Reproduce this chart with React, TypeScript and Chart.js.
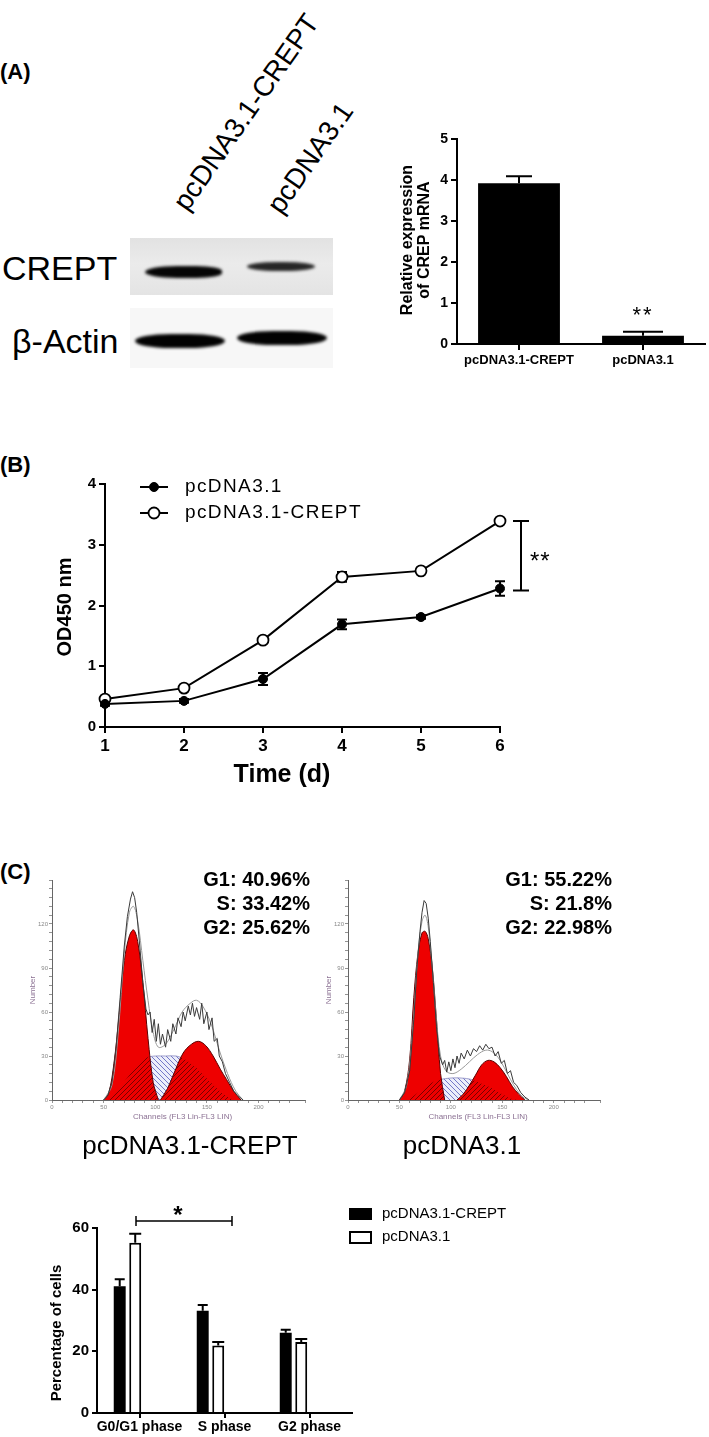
import React, { useEffect, useRef } from 'react';
import { Chart, registerables } from 'chart.js';

// ================= DATA =================
// Panel A – relative CREPT mRNA
const mrnaCategories = ['pcDNA3.1-CREPT', 'pcDNA3.1'];
const mrnaValues = [3.92, 0.2];
const mrnaErrors = [0.17, 0.1];
const mrnaTicks = { min: 0, max: 5, step: 1 };

// Panel B – CCK-8 growth curve
const days = [1, 2, 3, 4, 5, 6];
const odControl = [0.38, 0.43, 0.79, 1.69, 1.81, 2.28];
const odControlErr = [0.03, 0.03, 0.1, 0.08, 0.03, 0.12];
const odCrept = [0.46, 0.64, 1.43, 2.47, 2.57, 3.39];
const odCreptErr = [0.03, 0.03, 0.03, 0.08, 0.03, 0.03];
const odSeriesNames = ['pcDNA3.1', 'pcDNA3.1-CREPT'];

// Panel C – flow cytometry histograms (channel, count)
const h1G1Ch = [50, 55, 60, 65, 70, 75, 79, 83, 88, 93, 98, 103];
const h1G1N = [0, 5, 25, 58, 95, 112, 116, 108, 80, 42, 12, 0];
const h1G2Ch = [105, 112, 118, 127, 135, 142, 149, 156, 163, 169, 176, 183];
const h1G2N = [0, 8, 18, 32, 38, 40, 37, 30, 21, 14, 6, 0];
const h1SCh = [55, 65, 75, 85, 92, 100, 110, 120, 128, 138, 148, 158, 168, 176];
const h1SN = [0, 8, 17, 25, 29, 30, 30, 30, 28, 23, 16, 9, 3, 0];
const h1FitCh = [50, 58, 64, 70, 75, 79, 83, 88, 93, 98, 103, 110, 118, 126, 134, 140, 146, 154, 162, 170, 178, 185];
const h1FitN = [0, 10, 45, 100, 128, 132, 122, 95, 68, 46, 36, 38, 48, 60, 66, 68, 64, 52, 34, 18, 6, 0];
const h1RawCh = [50, 54, 58, 62, 66, 70, 73, 76, 78, 80, 82, 85, 88, 91, 93, 95, 97, 99, 101, 103, 105, 107, 110, 112, 115, 117, 120, 122, 125, 127, 129, 132, 134, 136, 138, 140, 143, 145, 147, 150, 152, 155, 157, 160, 162, 165, 168, 172, 176, 180, 185];
const h1RawN = [0, 3, 12, 35, 70, 105, 125, 137, 142, 138, 128, 105, 80, 62, 58, 60, 46, 55, 40, 52, 38, 45, 36, 48, 40, 52, 45, 56, 50, 60, 54, 64, 58, 66, 57, 63, 55, 66, 52, 60, 48, 56, 40, 42, 30, 26, 18, 12, 6, 3, 0];
const h1Marker = 79;

const h2G1Ch = [50, 55, 60, 64, 68, 72, 75, 78, 82, 86, 90, 94];
const h2G1N = [0, 6, 28, 70, 100, 114, 115, 110, 90, 55, 18, 0];
const h2G2Ch = [106, 112, 118, 124, 130, 136, 142, 148, 154, 160, 166, 172];
const h2G2N = [0, 4, 10, 17, 24, 27, 26, 22, 16, 9, 4, 0];
const h2SCh = [58, 66, 74, 82, 90, 100, 110, 120, 130, 140, 150, 158, 165];
const h2SN = [0, 4, 8, 12, 14, 15, 15, 14, 11, 8, 4, 1, 0];
const h2FitCh = [50, 57, 63, 68, 72, 75, 78, 82, 86, 90, 95, 102, 110, 118, 126, 134, 140, 146, 152, 158, 164, 170, 176];
const h2FitN = [0, 10, 50, 100, 122, 126, 118, 90, 55, 30, 20, 18, 21, 26, 31, 34, 33, 29, 22, 14, 7, 2, 0];
const h2RawCh = [50, 55, 60, 64, 67, 70, 72, 74, 76, 78, 80, 83, 86, 89, 92, 94, 96, 98, 100, 102, 104, 106, 108, 110, 113, 116, 119, 122, 125, 128, 131, 134, 137, 140, 143, 146, 149, 152, 155, 158, 161, 164, 168, 172, 176];
const h2RawN = [0, 5, 20, 55, 90, 115, 128, 136, 134, 124, 108, 80, 50, 30, 24, 27, 19, 26, 20, 28, 22, 30, 25, 32, 28, 34, 30, 35, 33, 37, 34, 38, 35, 36, 30, 33, 25, 27, 18, 20, 12, 10, 5, 2, 0];
const h2Marker = 75;

const statsCrept = ['G1: 40.96%', 'S: 33.42%', 'G2: 25.62%'];
const statsCtrl = ['G1: 55.22%', 'S: 21.8%', 'G2: 22.98%'];

// Panel C – cell-cycle bar chart
const phaseLabels = ['G0/G1 phase', 'S phase', 'G2 phase'];
const phaseCrept = [41.1, 33.2, 26.0];
const phaseCreptErr = [2.3, 1.8, 1.0];
const phaseCtrl = [55.2, 21.9, 23.0];
const phaseCtrlErr = [2.9, 1.1, 1.0];
const phaseSeriesNames = ['pcDNA3.1-CREPT', 'pcDNA3.1'];

// ================= SETUP =================
const FONT = '"Liberation Sans", Arial, Helvetica, sans-serif';

const clipToPlugin = {
  id: 'clipTo',
  beforeDatasetDraw(chart: any, args: any) {
    const ds: any = chart.data.datasets[args.index];
    if (!ds || !ds.clipTo) return;
    const ctx = chart.ctx;
    const base = chart.scales.y.getPixelForValue(0);
    ctx.save();
    ctx.beginPath();
    ds.clipTo.forEach((k: number) => {
      const pts = chart.getDatasetMeta(k).data;
      if (!pts.length) return;
      ctx.moveTo(pts[0].x, base);
      pts.forEach((p: any) => ctx.lineTo(p.x, p.y));
      ctx.lineTo(pts[pts.length - 1].x, base);
      ctx.closePath();
    });
    ctx.clip();
  },
  afterDatasetDraw(chart: any, args: any) {
    const ds: any = chart.data.datasets[args.index];
    if (ds && ds.clipTo) chart.ctx.restore();
  },
};

Chart.register(clipToPlugin as any);
Chart.register(...registerables);
Chart.defaults.font.family = FONT;
Chart.defaults.color = '#000';

const errorBars = {
  id: 'errorBars',
  beforeDatasetsDraw(chart: any) {
    const ctx = chart.ctx;
    chart.data.datasets.forEach((ds: any, di: number) => {
      if (!ds.errors) return;
      const meta = chart.getDatasetMeta(di);
      const ys = meta.yScale || chart.scales.y;
      ctx.save();
      ctx.strokeStyle = '#000';
      ctx.lineWidth = ds.errWidth || 2;
      meta.data.forEach((el: any, i: number) => {
        const e = ds.errors[i];
        if (e == null) return;
        const raw = ds.data[i];
        const v = typeof raw === 'object' ? raw.y : raw;
        const cap = Array.isArray(ds.errCap) ? ds.errCap[i] : ds.errCap || 5;
        const yt = ys.getPixelForValue(v + e);
        const yb = ys.getPixelForValue(ds.errUpOnly ? v : v - e);
        ctx.beginPath();
        ctx.moveTo(el.x, yb);
        ctx.lineTo(el.x, yt);
        ctx.moveTo(el.x - cap, yt);
        ctx.lineTo(el.x + cap, yt);
        if (!ds.errUpOnly) {
          ctx.moveTo(el.x - cap, yb);
          ctx.lineTo(el.x + cap, yb);
        }
        ctx.stroke();
      });
      ctx.restore();
    });
  },
};

function drawText(ctx: any, s: string, x: number, y: number, o: any) {
  ctx.save();
  ctx.font = o.font;
  ctx.fillStyle = o.color || '#000';
  ctx.textAlign = o.align || 'left';
  ctx.textBaseline = o.baseline || 'middle';
  if (o.ls) ctx.letterSpacing = o.ls;
  ctx.translate(x, y);
  if (o.rot) ctx.rotate(o.rot);
  ctx.fillText(s, 0, 0);
  ctx.restore();
}

const blackAxis = (tickLen: number) => ({
  grid: { display: true, drawOnChartArea: false, offset: false, tickLength: tickLen, color: '#000', lineWidth: 2 },
  border: { display: true, color: '#000', width: 2 },
});

type Make = (ctx: CanvasRenderingContext2D) => any;

function ChartBox(props: { left: number; top: number; width: number; height: number; make: Make }) {
  const ref = useRef<HTMLCanvasElement | null>(null);
  useEffect(() => {
    const canvas = ref.current as HTMLCanvasElement;
    const chart = new Chart(canvas, props.make(canvas.getContext('2d') as CanvasRenderingContext2D));
    return () => chart.destroy();
  }, []);
  const { left, top, width, height } = props;
  return <canvas ref={ref} width={width} height={height} style={{ position: 'absolute', left, top, width, height }} />;
}

const xy = (xs: number[], ys: number[]) => xs.map((x, i) => ({ x, y: ys[i] }));

// ---------- Panel A bar chart ----------
const A_OX = 380, A_OY = 120;
const makeMrna: Make = () => ({
  type: 'bar',
  data: {
    labels: mrnaCategories,
    datasets: [{
      label: 'Relative expression', data: mrnaValues, backgroundColor: '#000', borderWidth: 0,
      barPercentage: 0.66, categoryPercentage: 1,
      errors: mrnaErrors, errCap: [13, 20], errUpOnly: true, errWidth: 2,
    }],
  },
  options: {
    responsive: false, animation: false, events: [],
    layout: { padding: { left: 0, top: 19, right: 4, bottom: 0 } },
    plugins: { legend: { display: false }, tooltip: { enabled: false } },
    scales: {
      x: {
        offset: true, ...blackAxis(6),
        ticks: { color: '#000', font: { size: 13, weight: 'bold' }, padding: 3, maxRotation: 0, autoSkip: false },
        afterFit: (s: any) => { s.height = 36; },
      },
      y: {
        min: mrnaTicks.min, max: mrnaTicks.max, ...blackAxis(6),
        ticks: { stepSize: mrnaTicks.step, color: '#000', font: { size: 14, weight: 'bold' }, padding: 3 },
        afterFit: (s: any) => { s.width = 77; },
      },
    },
  },
  plugins: [errorBars, {
    id: 'aDeco',
    afterDraw(chart: any) {
      const ctx = chart.ctx;
      const f = `bold 16px ${FONT}`;
      drawText(ctx, 'Relative expression', 408 - A_OX, 240 - A_OY, { font: f, align: 'center', rot: -Math.PI / 2 });
      drawText(ctx, 'of CREP mRNA', 425 - A_OX, 240 - A_OY, { font: f, align: 'center', rot: -Math.PI / 2 });
      drawText(ctx, '**', 643 - A_OX, 322 - A_OY, { font: `22px ${FONT}`, align: 'center', baseline: 'alphabetic', ls: '2px' });
    },
  }],
});

// ---------- Panel B growth curve ----------
const B_OX = 0, B_OY = 440;
const makeGrowth: Make = () => ({
  type: 'line',
  data: {
    datasets: [
      {
        label: odSeriesNames[0], data: xy(days, odControl), borderColor: '#000', borderWidth: 2,
        pointRadius: 4.5, pointBackgroundColor: '#000', pointBorderColor: '#000', pointBorderWidth: 1,
        errors: odControlErr, errCap: 5, errWidth: 2, clip: false,
      },
      {
        label: odSeriesNames[1], data: xy(days, odCrept), borderColor: '#000', borderWidth: 2,
        pointRadius: 5.5, pointBackgroundColor: '#fff', pointBorderColor: '#000', pointBorderWidth: 1.8,
        errors: odCreptErr, errCap: 5, errWidth: 2, clip: false,
      },
    ],
  },
  options: {
    responsive: false, animation: false, events: [],
    layout: { padding: { left: 0, top: 44, right: 209, bottom: 0 } },
    plugins: { legend: { display: false }, tooltip: { enabled: false } },
    scales: {
      x: {
        type: 'linear', min: 1, max: 6, ...blackAxis(6),
        ticks: { stepSize: 1, color: '#000', font: { size: 17, weight: 'bold' }, padding: 3 },
        afterFit: (s: any) => { s.height = 73; },
      },
      y: {
        min: 0, max: 4, ...blackAxis(6),
        ticks: { stepSize: 1, color: '#000', font: { size: 15, weight: 'bold' }, padding: 3 },
        afterFit: (s: any) => { s.width = 105; },
      },
    },
  },
  plugins: [errorBars, {
    id: 'bDeco',
    afterDraw(chart: any) {
      const ctx = chart.ctx;
      const { chartArea, scales } = chart;
      drawText(ctx, 'OD450 nm', 65 - B_OX, 607 - B_OY, { font: `bold 20px ${FONT}`, align: 'center', rot: -Math.PI / 2 });
      drawText(ctx, 'Time (d)', 282 - B_OX, 775 - B_OY, { font: `bold 25px ${FONT}`, align: 'center' });
      // legend
      const rows = [487 - B_OY, 513 - B_OY];
      chart.data.datasets.forEach((ds: any, i: number) => {
        const y = rows[i];
        ctx.save();
        ctx.strokeStyle = '#000';
        ctx.lineWidth = 2;
        ctx.beginPath();
        ctx.moveTo(140, y);
        ctx.lineTo(168, y);
        ctx.stroke();
        ctx.beginPath();
        ctx.arc(154, y, ds.pointRadius, 0, Math.PI * 2);
        ctx.fillStyle = ds.pointBackgroundColor;
        ctx.fill();
        ctx.lineWidth = ds.pointBorderWidth;
        ctx.stroke();
        ctx.restore();
        drawText(ctx, ds.label, 185, y, { font: `19px ${FONT}`, ls: '1.4px' });
      });
      // significance bracket
      const n = days.length - 1;
      const yTop = scales.y.getPixelForValue(odCrept[n]);
      const yBot = scales.y.getPixelForValue(odControl[n]) + 2;
      const bx = chartArea.right + 21;
      ctx.save();
      ctx.strokeStyle = '#000';
      ctx.lineWidth = 2;
      ctx.beginPath();
      ctx.moveTo(bx, yTop); ctx.lineTo(bx, yBot);
      ctx.moveTo(bx - 8, yTop); ctx.lineTo(bx + 8, yTop);
      ctx.moveTo(bx - 8, yBot); ctx.lineTo(bx + 8, yBot);
      ctx.stroke();
      ctx.restore();
      drawText(ctx, '**', bx + 9, (yTop + yBot) / 2 + 13, { font: `24px ${FONT}`, baseline: 'alphabetic', ls: '1px' });
    },
  }],
});

// ---------- Panel C histograms ----------
function hatch(ctx: CanvasRenderingContext2D, bg: string | null, fg: string, dir: number) {
  const size = 5;
  const c = document.createElement('canvas');
  c.width = size; c.height = size;
  const g = c.getContext('2d') as CanvasRenderingContext2D;
  if (bg) { g.fillStyle = bg; g.fillRect(0, 0, size, size); }
  g.strokeStyle = fg;
  g.lineWidth = 1;
  g.beginPath();
  if (dir > 0) {
    g.moveTo(-1, -1); g.lineTo(size + 1, size + 1);
    g.moveTo(-1, size - 1); g.lineTo(1, size + 1);
    g.moveTo(size - 1, -1); g.lineTo(size + 1, 1);
  } else {
    g.moveTo(-1, size + 1); g.lineTo(size + 1, -1);
    g.moveTo(-1, 1); g.lineTo(1, -1);
    g.moveTo(size - 1, size + 1); g.lineTo(size + 1, size - 1);
  }
  g.stroke();
  return ctx.createPattern(c, 'repeat');
}

const HIST_FONT_COLOR = '#8c7294';
function makeHist(h: any): Make {
  return (ctx) => ({
    type: 'line',
    data: {
      datasets: [
        { label: 'S', data: xy(h.sCh, h.sN), fill: 'origin', backgroundColor: hatch(ctx, '#eceefa', '#7478c8', 1), borderColor: '#8a8ac0', borderWidth: 0.8, pointRadius: 0, tension: 0.3, order: 6 },
        { label: 'G1', data: xy(h.g1Ch, h.g1N), fill: 'origin', backgroundColor: '#ee0000', borderColor: '#5a0000', borderWidth: 1, pointRadius: 0, tension: 0.35, order: 5 },
        { label: 'G2', data: xy(h.g2Ch, h.g2N), fill: 'origin', backgroundColor: '#ee0000', borderColor: '#5a0000', borderWidth: 1, pointRadius: 0, tension: 0.35, order: 5 },
        { label: 'S overlap', data: xy(h.sCh, h.sN), fill: 'origin', backgroundColor: hatch(ctx, null, '#7a0000', -1), borderColor: 'rgba(0,0,0,0)', borderWidth: 0, pointRadius: 0, tension: 0.3, order: 4, clipTo: [1, 2] },
        { label: 'fit', data: xy(h.fitCh, h.fitN), fill: false, borderColor: '#9a9a9a', borderWidth: 1, pointRadius: 0, tension: 0.35, order: 3 },
        { label: 'raw', data: xy(h.rawCh, h.rawN), fill: false, borderColor: '#3a3a3a', borderWidth: 1, pointRadius: 0, tension: 0, order: 2 },
        { label: 'marker', data: [{ x: h.marker, y: -3.5 }], showLine: false, pointStyle: 'triangle', pointRadius: 4, pointBackgroundColor: '#000', pointBorderColor: '#000', clip: false, order: 1 },
      ],
    },
    options: {
      responsive: false, animation: false, events: [],
      layout: { padding: { left: 0, top: 20, right: h.padRight, bottom: 0 } },
      plugins: { legend: { display: false }, tooltip: { enabled: false } },
      scales: {
        x: {
          type: 'linear', min: 0, max: 245,
          grid: { display: true, drawOnChartArea: false, tickLength: 3, color: '#777', lineWidth: 0.8 },
          border: { display: true, color: '#666', width: 1 },
          ticks: { stepSize: 10, autoSkip: false, maxRotation: 0, color: '#888', font: { size: 6 }, padding: 1, callback: (v: number) => (v % 50 === 0 ? String(v) : '') },
          afterFit: (s: any) => { s.height = 35; },
        },
        y: {
          min: 0, max: 150,
          grid: { display: true, drawOnChartArea: false, tickLength: 3, color: '#777', lineWidth: 0.8 },
          border: { display: true, color: '#666', width: 1 },
          ticks: { stepSize: 6, autoSkip: false, color: '#888', font: { size: 6 }, padding: 1, callback: (v: number) => (v % 30 === 0 && v < 150 ? String(v) : '') },
          afterFit: (s: any) => { s.width = h.yWidth; },
        },
      },
    },
    plugins: [{
      id: 'hDeco',
      afterDraw(chart: any) {
        const c = chart.ctx;
        const { chartArea } = chart;
        drawText(c, 'Channels (FL3 Lin-FL3 LIN)', (chartArea.left + chartArea.right) / 2 + 4, chartArea.bottom + 17, { font: `8px ${FONT}`, align: 'center', color: HIST_FONT_COLOR });
        drawText(c, 'Number', chartArea.left - 19, chartArea.top + 110, { font: `8px ${FONT}`, align: 'center', color: HIST_FONT_COLOR, rot: -Math.PI / 2 });
      },
    }],
  });
}

const hist1 = { g1Ch: h1G1Ch, g1N: h1G1N, g2Ch: h1G2Ch, g2N: h1G2N, sCh: h1SCh, sN: h1SN, fitCh: h1FitCh, fitN: h1FitN, rawCh: h1RawCh, rawN: h1RawN, marker: h1Marker, padRight: 25, yWidth: 52 };
const hist2 = { g1Ch: h2G1Ch, g1N: h2G1N, g2Ch: h2G2Ch, g2N: h2G2N, sCh: h2SCh, sN: h2SN, fitCh: h2FitCh, fitN: h2FitN, rawCh: h2RawCh, rawN: h2RawN, marker: h2Marker, padRight: 30, yWidth: 38 };

// ---------- Panel C cell cycle bars ----------
const P_OX = 0, P_OY = 1190;
const makePhase: Make = () => ({
  type: 'bar',
  data: {
    datasets: [
      { label: phaseSeriesNames[0], data: phaseCrept.map((v, i) => ({ x: i, y: v })), backgroundColor: '#000', borderWidth: 0, errors: phaseCreptErr, errCap: 5, errUpOnly: true, errWidth: 2 },
      { label: phaseSeriesNames[1], data: phaseCtrl.map((v, i) => ({ x: i, y: v })), backgroundColor: '#fff', borderColor: '#000', borderWidth: 2, errors: phaseCtrlErr, errCap: 6, errUpOnly: true, errWidth: 2 },
    ],
  },
  options: {
    responsive: false, animation: false, events: [],
    datasets: { bar: { categoryPercentage: 0.53, barPercentage: 0.77 } },
    layout: { padding: { left: 0, top: 38, right: 357, bottom: 0 } },
    plugins: { legend: { display: false }, tooltip: { enabled: false } },
    scales: {
      x: { type: 'linear', min: -0.367, max: 2.705, offset: false, display: false },
      x2: {
        type: 'category', labels: phaseLabels, position: 'bottom', offset: true, ...blackAxis(5),
        ticks: { color: '#000', font: { size: 14, weight: 'bold' }, padding: 1, autoSkip: false, maxRotation: 0 },
        afterFit: (s: any) => { s.height = 24; },
      },
      y: {
        min: 0, max: 60, ...blackAxis(5),
        ticks: { stepSize: 20, color: '#000', font: { size: 15, weight: 'bold' }, padding: 3 },
        afterFit: (s: any) => { s.width = 97; },
      },
    },
  },
  plugins: [errorBars, {
    id: 'pDeco',
    afterDraw(chart: any) {
      const ctx = chart.ctx;
      drawText(ctx, 'Percentage of cells', 57 - P_OX, 1333 - P_OY, { font: `bold 15px ${FONT}`, align: 'center', rot: -Math.PI / 2 });
      // legend
      const rows = [1214 - P_OY, 1237 - P_OY];
      chart.data.datasets.forEach((ds: any, i: number) => {
        const y = rows[i];
        ctx.save();
        if (i === 0) {
          ctx.fillStyle = '#000';
          ctx.fillRect(349, y - 6, 23, 12);
        } else {
          ctx.strokeStyle = '#000';
          ctx.lineWidth = 2;
          ctx.strokeRect(350, y - 5, 21, 11);
        }
        ctx.restore();
        drawText(ctx, ds.label, 382, y, { font: `15px ${FONT}` });
      });
      // bracket
      const yb = 1221 - P_OY;
      ctx.save();
      ctx.strokeStyle = '#000';
      ctx.lineWidth = 1.5;
      ctx.beginPath();
      ctx.moveTo(136, yb); ctx.lineTo(232, yb);
      ctx.moveTo(136, yb - 5); ctx.lineTo(136, yb + 5);
      ctx.moveTo(232, yb - 5); ctx.lineTo(232, yb + 5);
      ctx.stroke();
      ctx.restore();
      drawText(ctx, '*', 178, 1223 - P_OY, { font: `bold 24px ${FONT}`, align: 'center', baseline: 'alphabetic' });
    },
  }],
});

// ================= HTML helpers =================
const abs = (extra: any) => ({ position: 'absolute' as const, whiteSpace: 'nowrap' as const, ...extra });
const band = (l: number, t: number, w: number, h: number, c: string, r: string) =>
  abs({ left: l, top: t, width: w, height: h, background: c, borderRadius: r, filter: 'blur(1.4px)' });

function Rotated(props: { x: number; y: number; text: string; size: number }) {
  return (
    <div style={abs({ left: props.x, top: props.y, transform: 'rotate(-55deg)', transformOrigin: '0 0' })}>
      <div style={abs({ left: 0, top: -0.846 * props.size, font: `${props.size}px ${FONT}`, lineHeight: `${props.size}px` })}>{props.text}</div>
    </div>
  );
}

function Stats(props: { right: number; lines: string[] }) {
  return (
    <div style={abs({ right: 709 - props.right, top: 867, textAlign: 'right', font: `bold 20px ${FONT}`, lineHeight: '24px' })}>
      {props.lines.map((s) => <div key={s}>{s}</div>)}
    </div>
  );
}

export default function App() {
  return (
    <div style={{ position: 'absolute', left: 0, top: 0, width: 709, height: 1437, background: '#fff', overflow: 'hidden', fontFamily: FONT, color: '#000' }}>
      {/* Panel letters */}
      <div style={abs({ left: 0, top: 61, font: `bold 22px ${FONT}`, lineHeight: '22px' })}>(A)</div>
      <div style={abs({ left: 0, top: 454, font: `bold 22px ${FONT}`, lineHeight: '22px' })}>(B)</div>
      <div style={abs({ left: 0, top: 861, font: `bold 22px ${FONT}`, lineHeight: '22px' })}>(C)</div>

      {/* Western blot */}
      <Rotated x={188} y={213} text="pcDNA3.1-CREPT" size={28} />
      <Rotated x={282} y={216} text="pcDNA3.1" size={28} />
      <div style={abs({ left: 2, top: 251, font: `34px ${FONT}`, lineHeight: '34px' })}>CREPT</div>
      <div style={abs({ left: 12, top: 324, font: `34px ${FONT}`, lineHeight: '34px' })}>β-Actin</div>
      <div style={abs({ left: 130, top: 238, width: 203, height: 57, background: 'linear-gradient(180deg,#e2e2e2,#ebebeb 45%,#e4e4e4)' })} />
      <div style={band(145, 266, 77, 12, '#050505', '50% 40% 40% 50% / 60% 50% 50% 60%')} />
      <div style={band(247, 262, 68, 9, '#262626', '45% / 50%')} />
      <div style={abs({ left: 130, top: 308, width: 203, height: 60, background: '#f7f7f7' })} />
      <div style={band(135, 334, 90, 14, '#020202', '40% / 50%')} />
      <div style={band(237, 331, 90, 14, '#020202', '40% / 50%')} />

      <ChartBox left={A_OX} top={A_OY} width={329} height={260} make={makeMrna} />
      <ChartBox left={B_OX} top={B_OY} width={709} height={360} make={makeGrowth} />
      <ChartBox left={0} top={860} width={330} height={275} make={makeHist(hist1)} />
      <ChartBox left={310} top={860} width={320} height={275} make={makeHist(hist2)} />
      <ChartBox left={P_OX} top={P_OY} width={709} height={247} make={makePhase} />

      <Stats right={310} lines={statsCrept} />
      <Stats right={612} lines={statsCtrl} />
      <div style={abs({ left: 190, top: 1132, transform: 'translateX(-50%)', font: `26px ${FONT}`, lineHeight: '26px' })}>pcDNA3.1-CREPT</div>
      <div style={abs({ left: 462, top: 1132, transform: 'translateX(-50%)', font: `26px ${FONT}`, lineHeight: '26px' })}>pcDNA3.1</div>
    </div>
  );
}
